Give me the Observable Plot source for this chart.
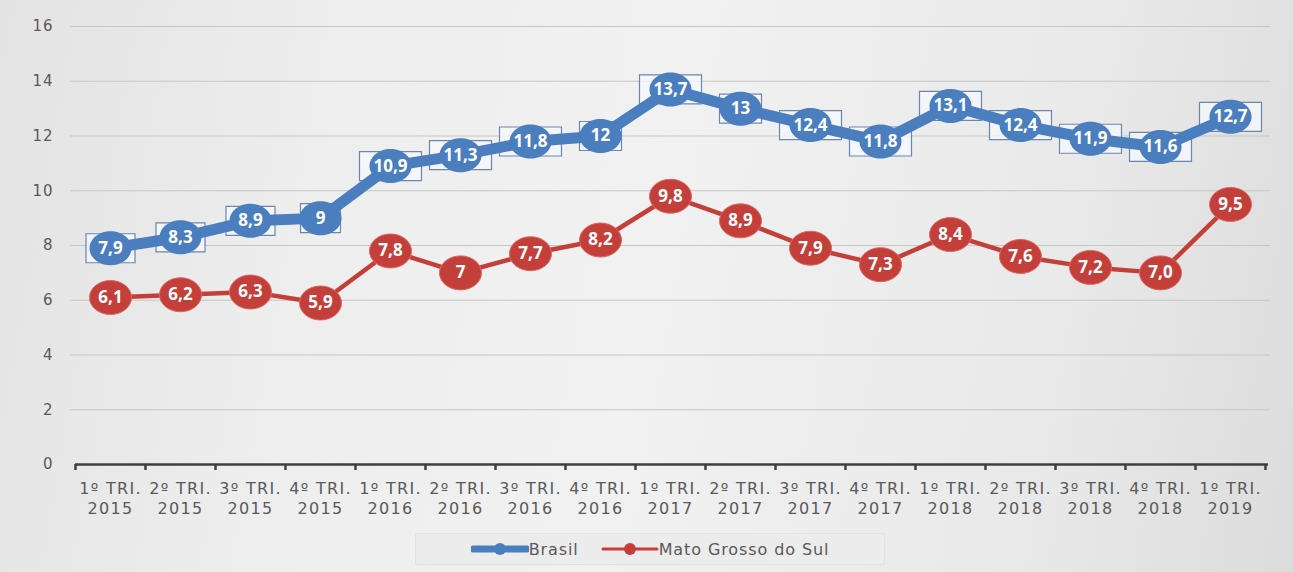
<!DOCTYPE html>
<html>
<head>
<meta charset="utf-8">
<script src="https://cdn.jsdelivr.net/npm/d3@7"></script>
<script src="https://cdn.jsdelivr.net/npm/@observablehq/plot@0.6"></script>
<style>
  html, body { margin: 0; padding: 0; }
  body {
    width: 1293px; height: 572px; overflow: hidden;
    background: linear-gradient(100deg, #e3e3e3 0%, #eeeeee 25%, #f1f1f1 50%, #e9e9e9 80%, #dcdcdc 100%);
    font-family: "DejaVu Sans", sans-serif;
    position: relative;
  }
  #chart svg { display: block; background: transparent; }
  #chart svg g[aria-label="x-axis tick label"] text { letter-spacing: 1.3px; }
  #chart svg g[aria-label="y-axis tick label"] text { letter-spacing: 1px; }
  #legend {
    position: absolute; left: 415px; top: 533px; width: 470px; height: 32px;
    background: #ececec; border: 1px solid #e2e2e2; box-sizing: border-box;
    display: flex; align-items: center; justify-content: center; gap: 22px;
    color: #595959; font-size: 16px; letter-spacing: 0.9px; font-family: "DejaVu Sans", sans-serif;
  }
  .item { display: flex; align-items: center; }
</style>
</head>
<body>
<div id="chart"></div>
<div id="legend">
  <div class="item"><svg width="58" height="20"><line x1="2" y1="10" x2="56" y2="10" stroke="#4a7ebf" stroke-width="7" stroke-linecap="round"/><circle cx="29" cy="10" r="6" fill="#4a7ebf"/></svg><span>Brasil</span></div>
  <div class="item"><svg width="58" height="20"><line x1="2" y1="10" x2="56" y2="10" stroke="#c43f3a" stroke-width="3" stroke-linecap="round"/><circle cx="29" cy="10" r="6" fill="#c43f3a"/></svg><span>Mato Grosso do Sul</span></div>
</div>
<script>
const quarters = ["1º TRI.","2º TRI.","3º TRI.","4º TRI.","1º TRI.","2º TRI.","3º TRI.","4º TRI.","1º TRI.","2º TRI.","3º TRI.","4º TRI.","1º TRI.","2º TRI.","3º TRI.","4º TRI.","1º TRI."];
const years = ["2015","2015","2015","2015","2016","2016","2016","2016","2017","2017","2017","2017","2018","2018","2018","2018","2019"];
const brasil = [7.9, 8.3, 8.9, 9, 10.9, 11.3, 11.8, 12, 13.7, 13, 12.4, 11.8, 13.1, 12.4, 11.9, 11.6, 12.7];
const brasilLabels = ["7,9","8,3","8,9","9","10,9","11,3","11,8","12","13,7","13","12,4","11,8","13,1","12,4","11,9","11,6","12,7"];
const ms = [6.1, 6.2, 6.3, 5.9, 7.8, 7, 7.7, 8.2, 9.8, 8.9, 7.9, 7.3, 8.4, 7.6, 7.2, 7.0, 9.5];
const msLabels = ["6,1","6,2","6,3","5,9","7,8","7","7,7","8,2","9,8","8,9","7,9","7,3","8,4","7,6","7,2","7,0","9,5"];
const yTicks = [0, 2, 4, 6, 8, 10, 12, 14, 16];

const BLUE = "#4a7ebf", RED = "#c43f3a";
const n = quarters.length;
const idx = d3.range(n);
const bData = idx.map(i => ({i, v: brasil[i], label: brasilLabels[i]}));
const mData = idx.map(i => ({i, v: ms[i], label: msLabels[i]}));

function ellipse(rx, ry) {
  const k = 0.5523;
  return {draw(ctx) {
    ctx.moveTo(rx, 0);
    ctx.bezierCurveTo(rx, ry * k, rx * k, ry, 0, ry);
    ctx.bezierCurveTo(-rx * k, ry, -rx, ry * k, -rx, 0);
    ctx.bezierCurveTo(-rx, -ry * k, -rx * k, -ry, 0, -ry);
    ctx.bezierCurveTo(rx * k, -ry, rx, -ry * k, rx, 0);
    ctx.closePath();
  }};
}
function box(w, h) {
  return {draw(ctx) { ctx.rect(-w / 2, -h / 2, w, h); }};
}
const boxWidths = {1: 40, 2: 42, 3: 49, 4: 62};
const boxMarks = [1, 2, 3, 4].map(len => Plot.dot(bData.filter(d => d.label.length === len), {
  x: "i", y: "v", symbol: box(boxWidths[len], 29), fill: "#f6f8fc", fillOpacity: 0.75,
  stroke: "#6a86ab", strokeWidth: 1.2
}));

const chart = Plot.plot({
  width: 1293,
  height: 522,
  marginLeft: 75,
  marginRight: 28,
  marginTop: 26,
  marginBottom: 58,
  style: {background: "transparent", fontFamily: "DejaVu Sans, sans-serif"},
  x: {domain: [-0.5, n - 0.5]},
  y: {domain: [0, 16]},
  marks: [
    Plot.ruleY(yTicks.filter(t => t > 0), {stroke: "#c6c6c6", strokeWidth: 1.2, insetLeft: -5, insetRight: -5}),
    Plot.axisY({ticks: yTicks, tickSize: 0, tickPadding: 22, fontSize: 15, fill: "#595959", label: null}),
    Plot.ruleY([0], {stroke: "#3f3f3f", strokeWidth: 2.5, insetRight: -3}),
    Plot.axisX({ticks: d3.range(-0.5, n, 1), tickSize: 6, stroke: "#3f3f3f", strokeWidth: 2.5, tickFormat: () => "", label: null}),
    Plot.axisX({ticks: idx, tickSize: 0, tickPadding: 15, tickFormat: i => quarters[i] + "\n" + years[i], fontSize: 16, fill: "#595959", lineHeight: 1.25, label: null}),
    Plot.line(mData, {x: "i", y: "v", stroke: RED, strokeWidth: 4.5}),
    Plot.dot(mData, {x: "i", y: "v", symbol: ellipse(21, 17), fill: RED, stroke: "#d86a66", strokeWidth: 1}),
    Plot.text(mData, {x: "i", y: "v", text: "label", fill: "white", fontSize: 17, fontWeight: 700, fontFamily: "Open Sans, sans-serif"}),
    ...boxMarks,
    Plot.line(bData, {x: "i", y: "v", stroke: BLUE, strokeWidth: 11}),
    Plot.dot(bData, {x: "i", y: "v", symbol: ellipse(21, 17), fill: BLUE}),
    Plot.text(bData, {x: "i", y: "v", text: "label", fill: "white", fontSize: 17, fontWeight: 700, fontFamily: "Open Sans, sans-serif"})
  ]
});
document.getElementById("chart").appendChild(chart);
</script>
</body>
</html>
